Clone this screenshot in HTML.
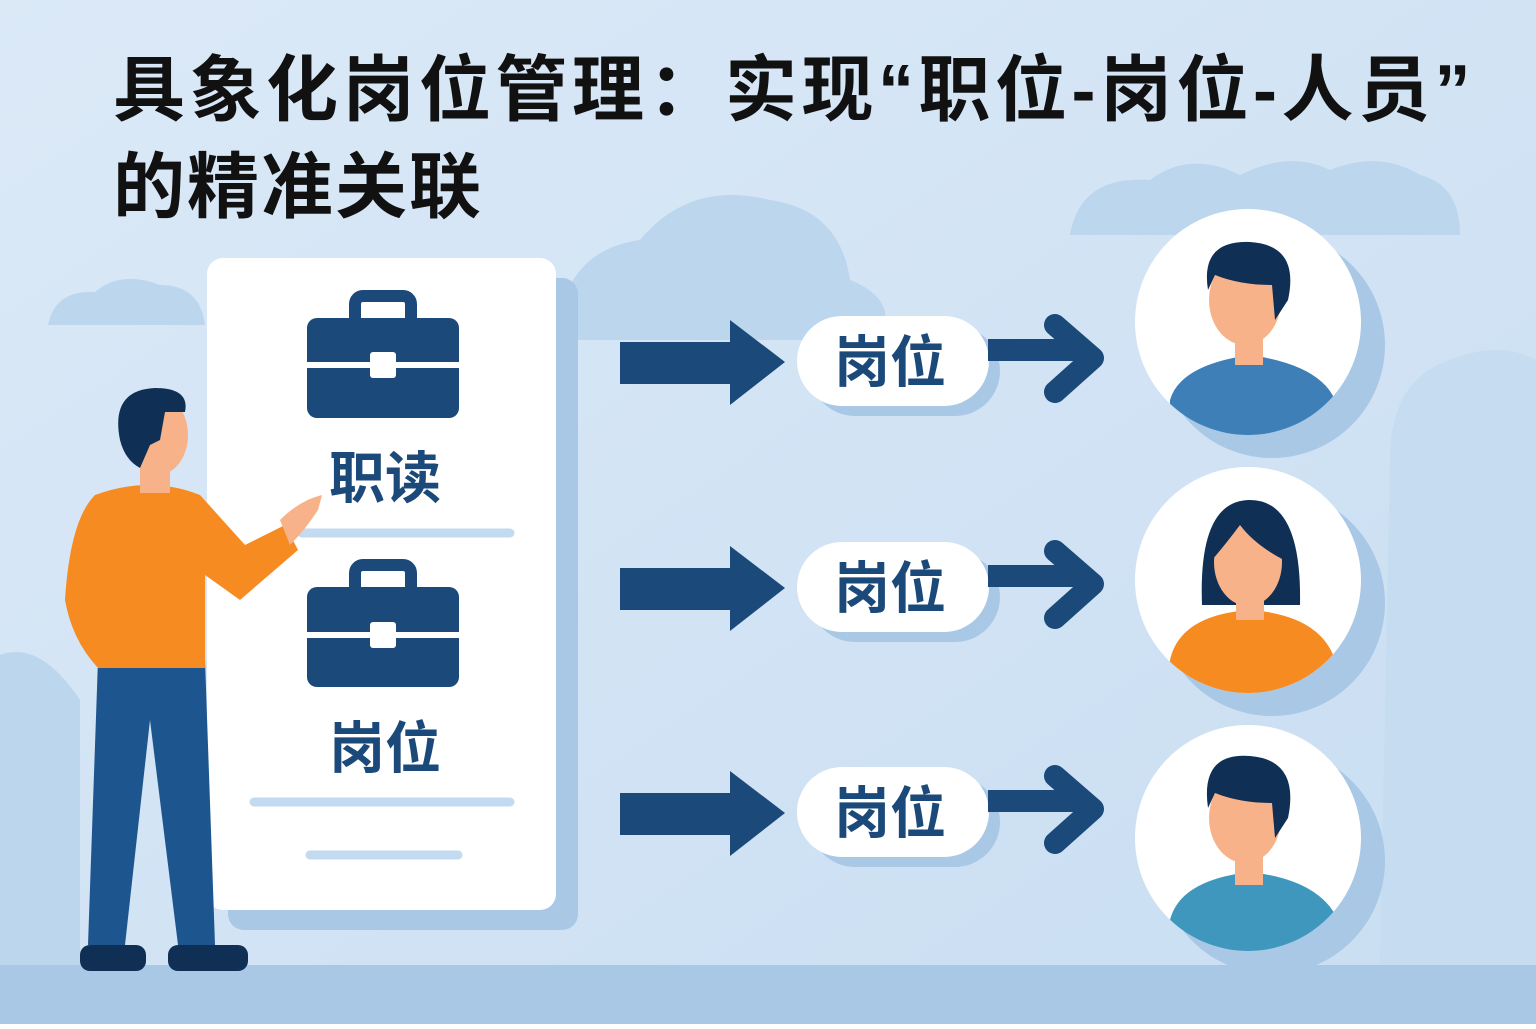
<!DOCTYPE html>
<html><head><meta charset="utf-8"><style>
html,body{margin:0;padding:0;}
body{width:1536px;height:1024px;overflow:hidden;}
svg text{font-family:"Liberation Sans","Noto Sans CJK SC",sans-serif;font-weight:700;}
</style></head><body>
<svg width="1536" height="1024" viewBox="0 0 1536 1024" xmlns="http://www.w3.org/2000/svg">
<defs>
<linearGradient id="bg" x1="0" y1="0" x2="1" y2="1">
<stop offset="0" stop-color="#dbe9f7"/><stop offset="1" stop-color="#c9def2"/></linearGradient>
</defs>
<rect width="1536" height="1024" fill="url(#bg)"/>
<g fill="#bcd6ee">
<path d="M1070 235 Q1080 175 1150 180 Q1190 150 1240 175 Q1290 150 1330 170 Q1380 150 1420 175 Q1460 185 1460 235Z"/>
<path d="M48 325 Q55 290 95 292 Q120 270 160 285 Q200 285 205 325Z"/>
<path d="M560 320 Q570 250 640 240 Q690 180 770 200 Q840 210 850 280 Q900 300 880 340 L560 340Z"/>
<path d="M0 655 Q40 640 80 700 L80 965 L0 965Z"/>
</g>
<path d="M1390 460 Q1390 380 1450 360 Q1500 340 1536 360 L1536 965 L1380 965Z" fill="#c6dcf0"/>
<rect x="0" y="965" width="1536" height="59" fill="#a9c8e6"/>
<text x="113" y="115" font-size="72" fill="#111" letter-spacing="4.5">具象化岗位管理：实现“职位-岗位-人员”</text>
<text x="113" y="212" font-size="72" fill="#111" letter-spacing="2">的精准关联</text>
<rect x="228" y="278" width="350" height="652" rx="16" fill="#a8c8e6"/>
<rect x="207" y="258" width="349" height="652" rx="16" fill="#fff"/>
<g fill="#1b4a7a">
<rect x="355" y="296" width="56" height="32" rx="8" fill="none" stroke="#1b4a7a" stroke-width="12"/>
<rect x="307" y="318" width="152" height="100" rx="10"/>
<rect x="355" y="565" width="56" height="32" rx="8" fill="none" stroke="#1b4a7a" stroke-width="12"/>
<rect x="307" y="587" width="152" height="100" rx="10"/>
</g>
<rect x="307" y="362" width="152" height="6" fill="#fff"/>
<rect x="370" y="352" width="26" height="26" rx="3" fill="#fff"/>
<rect x="307" y="632" width="152" height="6" fill="#fff"/>
<rect x="370" y="622" width="26" height="26" rx="3" fill="#fff"/>
<text x="385" y="498" font-size="56" fill="#1b4a7a" text-anchor="middle">职读</text>
<text x="385" y="768" font-size="56" fill="#1b4a7a" text-anchor="middle">岗位</text>
<g stroke="#c2dbf0" stroke-width="9" stroke-linecap="round">
<line x1="302" y1="533" x2="510" y2="533"/>
<line x1="254" y1="802" x2="510" y2="802"/>
<line x1="310" y1="855" x2="458" y2="855"/>
</g>
<g id="row">
<path d="M620 342 H730 V320 L785 362 L730 405 V384 H620Z" fill="#1b4a7a"/>
<rect x="810" y="326" width="190" height="90" rx="45" fill="#a8c8e6"/>
<rect x="797" y="316" width="192" height="90" rx="45" fill="#fff"/>
<text x="890" y="382" font-size="56" fill="#1b4a7a" text-anchor="middle">岗位</text>
<path d="M988 350 H1080" stroke="#1b4a7a" stroke-width="22"/>
<path d="M1055 325 L1093 358 L1055 392" fill="none" stroke="#1b4a7a" stroke-width="22" stroke-linecap="round" stroke-linejoin="round"/>
</g>
<use href="#row" y="226"/>
<use href="#row" y="451"/>
<g>
<circle cx="1272" cy="345" r="113" fill="#a8c8e6"/>
<circle cx="1248" cy="322" r="113" fill="#fff"/>
<circle cx="1272" cy="603" r="113" fill="#a8c8e6"/>
<circle cx="1248" cy="580" r="113" fill="#fff"/>
<circle cx="1272" cy="861" r="113" fill="#a8c8e6"/>
<circle cx="1248" cy="838" r="113" fill="#fff"/>
</g>
<clipPath id="c1"><circle cx="1248" cy="322" r="113"/></clipPath>
<clipPath id="c2"><circle cx="1248" cy="580" r="113"/></clipPath>
<clipPath id="c3"><circle cx="1248" cy="838" r="113"/></clipPath>
<g clip-path="url(#c1)">
<path d="M1170 400 Q1180 365 1250 355 Q1320 365 1335 400 L1335 440 L1170 440Z" fill="#3e7fb8"/>
<rect x="1235" y="330" width="28" height="35" fill="#f7b28a"/>
<ellipse cx="1245" cy="300" rx="36" ry="45" fill="#f7b28a"/>
<path d="M1208 290 Q1200 240 1250 242 Q1300 245 1288 300 L1275 320 L1272 285 Q1240 285 1215 275Z" fill="#0f2f55"/>
</g>
<g clip-path="url(#c2)">
<path d="M1202 605 Q1198 500 1250 500 Q1302 500 1300 605Z" fill="#0f2f55"/>
<path d="M1170 660 Q1180 615 1250 610 Q1320 615 1335 660 L1335 700 L1170 700Z" fill="#f68b22"/>
<rect x="1236" y="590" width="28" height="30" fill="#f7b28a"/>
<ellipse cx="1248" cy="562" rx="34" ry="44" fill="#f7b28a"/>
<path d="M1212 555 Q1212 508 1255 512 Q1285 520 1284 560 Q1255 545 1240 525 Q1225 545 1212 560Z" fill="#0f2f55"/>
</g>
<g clip-path="url(#c3)">
<path d="M1170 920 Q1180 880 1250 872 Q1320 880 1338 920 L1338 960 L1170 960Z" fill="#3f97bd"/>
<rect x="1235" y="850" width="28" height="35" fill="#f7b28a"/>
<ellipse cx="1245" cy="818" rx="36" ry="45" fill="#f7b28a"/>
<path d="M1208 808 Q1200 752 1250 756 Q1300 760 1288 818 L1275 838 L1272 803 Q1240 803 1215 793Z" fill="#0f2f55"/>
</g>
<path d="M98 660 L205 660 L215 945 L178 945 L150 720 L125 945 L88 945Z" fill="#1d558e"/>
<rect x="80" y="945" width="66" height="26" rx="10" fill="#0f2f55"/>
<rect x="168" y="945" width="80" height="26" rx="10" fill="#0f2f55"/>
<path d="M95 495 Q150 475 200 495 L245 545 L285 525 L298 550 L240 600 L205 575 L205 668 L98 668 Q72 640 65 600 Q70 520 95 495Z" fill="#f68b22"/>
<path d="M280 520 Q300 500 322 495 L318 510 Q305 530 290 545Z" fill="#f7b28a"/>
<rect x="140" y="455" width="30" height="38" fill="#f7b28a"/>
<ellipse cx="158" cy="435" rx="30" ry="40" fill="#f7b28a"/>
<path d="M120 440 Q110 390 155 388 Q190 388 185 412 L165 412 L160 440 L150 445 L140 468 Q125 460 120 440Z" fill="#0f2f55"/>
</svg>
</body></html>
